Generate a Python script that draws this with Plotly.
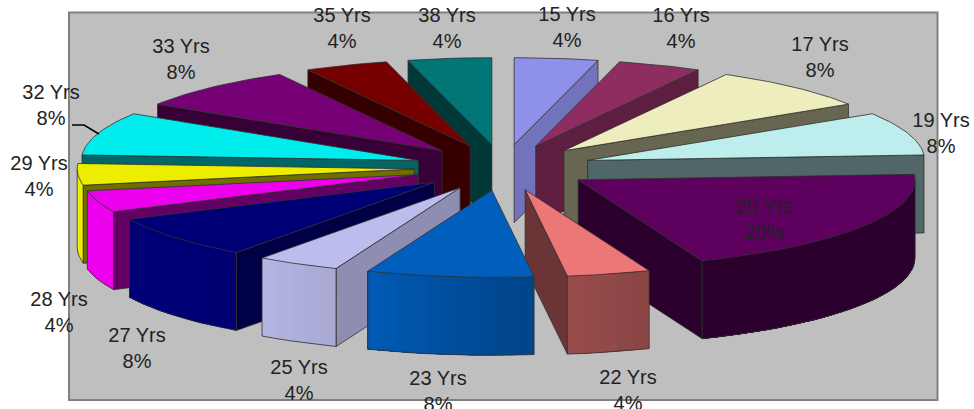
import numpy as np
import plotly.graph_objects as go

# Share of people by age
ages = ["15 Yrs", "16 Yrs", "17 Yrs", "19 Yrs", "20 Yrs", "22 Yrs", "23 Yrs", "25 Yrs",
        "27 Yrs", "28 Yrs", "29 Yrs", "32 Yrs", "33 Yrs", "35 Yrs", "38 Yrs"]
percent = [4, 4, 8, 8, 20, 4, 8, 4, 8, 4, 4, 8, 8, 4, 4]

# Slice styling
top_colors = ["#8f8fec", "#8e2e60", "#ededbd", "#bdeded", "#5e005e", "#ed7676", "#005fbd", "#bdbded",
              "#000076", "#ed00ed", "#eded00", "#00eded", "#760076", "#760000", "#007676"]
wall_shade = [0.80, 0.66, 0.43, 0.43, 0.47, 0.45, 0.60, 0.75, 0.60, 0.42, 0.47, 0.43, 0.47, 0.47, 0.47]

# Label anchors in the chart's pixel-like axis units
label_x = [567, 681, 820, 941, 764, 628, 438, 299, 137, 59, 39, 51, 181, 342, 447]
label_y = [29, 30, 59, 135, 221, 392, 393, 382, 350, 314, 178, 107, 61, 30, 30]

# Projection of the tilted pie
CX, CY = 503.0, 167.5
RX, RY = 337.0, 87.0
EXPLODE = 89.0
DEPTH = 78.0


def hex_rgb(c):
    return [int(c[i:i + 2], 16) for i in (1, 3, 5)]


def shaded(c, f):
    r, g, b = [int(round(v * f)) for v in hex_rgb(c)]
    return f"rgb({r},{g},{b})"


def rim_shade(a):
    # Light falls from the left, so the front rim darkens towards the right
    return float(np.interp(a, [90, 157.9, 158.5, 172.5, 173, 201.3, 201.8, 216, 232, 270],
                           [0.47, 0.47, 0.58, 0.65, 0.72, 0.95, 0.89, 0.96, 1.0, 1.0]))


def point(apex, angle):
    t = np.radians(angle)
    return apex[0] + RX * np.sin(t), apex[1] - RY * np.cos(t)


def poly(xs, ys, fill, line="#303030", width=0.8):
    return go.Scatter(x=list(xs), y=list(ys), mode="lines", fill="toself", fillcolor=fill,
                      line=dict(color=line, width=width), hoverinfo="skip", showlegend=False)


def path(xs, ys, color="#303030", width=0.8):
    return go.Scatter(x=list(xs), y=list(ys), mode="lines",
                      line=dict(color=color, width=width), hoverinfo="skip", showlegend=False)


edges = np.concatenate([[0], np.cumsum(percent)]) * 3.6
mids = (edges[:-1] + edges[1:]) / 2
fig = go.Figure()

# Painter's order: slices further back are drawn first
for i in sorted(range(len(ages)), key=lambda k: -np.cos(np.radians(mids[k]))):
    a0, a1, mid = edges[i], edges[i + 1], mids[i]
    t = np.radians(mid)
    apex = (CX + EXPLODE * np.sin(t), CY - EXPLODE * RY / RX * np.cos(t))
    color = top_colors[i]
    wall = shaded(color, wall_shade[i])

    # Radial side walls that face the viewer
    for edge, visible in ((a0, np.sin(np.radians(a0)) < -1e-9), (a1, np.sin(np.radians(a1)) > 1e-9)):
        if visible:
            ex, ey = point(apex, edge)
            fig.add_trace(poly([apex[0], ex, ex, apex[0], apex[0]],
                               [apex[1], ey, ey + DEPTH, apex[1] + DEPTH, apex[1]], wall))

    # Front rim: each band runs to the far end and is overpainted by the next,
    # which leaves no seams between the shading steps
    r0, r1 = max(a0, 90.0), min(a1, 270.0)
    if r1 > r0:
        steps = np.linspace(r0, r1, max(2, int((r1 - r0) / 2.5) + 1))
        xs, ys = point(apex, steps)
        for k in range(len(steps) - 1):
            strip = shaded(color, rim_shade((steps[k] + steps[k + 1]) / 2))
            fig.add_trace(go.Scatter(
                x=np.r_[xs[k:], xs[k:][::-1], xs[k]], y=np.r_[ys[k:], ys[k:][::-1] + DEPTH, ys[k]],
                mode="none", fill="toself", fillcolor=strip, hoverinfo="skip", showlegend=False))
        fig.add_trace(path(xs, ys + DEPTH))
        fig.add_trace(path([xs[0], xs[0]], [ys[0], ys[0] + DEPTH]))
        fig.add_trace(path([xs[-1], xs[-1]], [ys[-1], ys[-1] + DEPTH]))

    # Top face
    arc = np.linspace(a0, a1, max(4, int(a1 - a0)))
    ax, ay = point(apex, arc)
    fig.add_trace(poly(np.r_[apex[0], ax, apex[0]], np.r_[apex[1], ay, apex[1]], color))

# Leader line for the 32 Yrs label
fig.add_trace(path([72, 84, 99], [125, 125, 134], "#000000", 1.5))

fig.add_trace(go.Scatter(
    x=label_x, y=label_y, mode="text",
    text=[f"{a}<br>{p}%" for a, p in zip(ages, percent)],
    textposition="middle center",
    textfont=dict(family="Liberation Sans", size=20, color="#222222"),
    cliponaxis=False, hoverinfo="skip", showlegend=False,
))

fig.update_layout(
    width=974, height=409, margin=dict(l=0, r=0, t=0, b=0),
    paper_bgcolor="#ffffff", plot_bgcolor="#ffffff", showlegend=False,
    xaxis=dict(range=[0, 974], visible=False, fixedrange=True),
    yaxis=dict(range=[409, 0], visible=False, fixedrange=True),
    shapes=[dict(type="rect", layer="below", xref="x", yref="y", x0=69, y0=12.5, x1=937.5, y1=400,
                 fillcolor="#bfbfbf", line=dict(color="#808080", width=2))],
)

fig.write_html("out.html", config=dict(displayModeBar=False))
